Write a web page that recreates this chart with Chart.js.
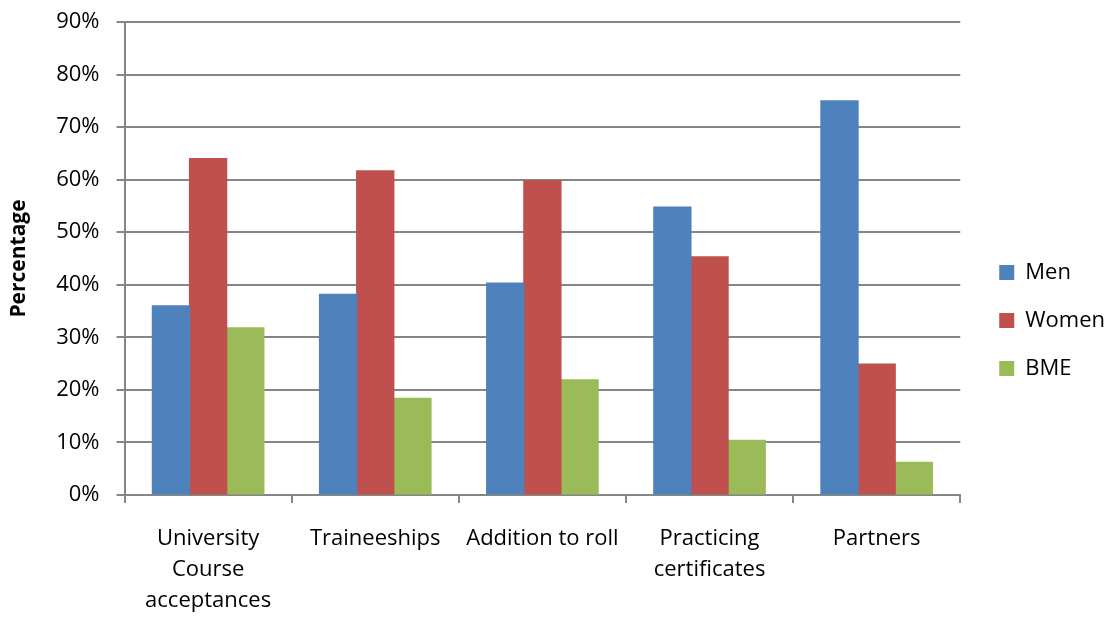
<!DOCTYPE html>
<html>
<head>
<meta charset="utf-8">
<script src="https://cdn.jsdelivr.net/npm/chart.js@4.4.1/dist/chart.umd.min.js"></script>
<style>
    body { margin: 0; background: #fff; }
    #wrap { width: 1115px; height: 617px; }
</style>
</head>
<body>
<div id="wrap"><canvas id="barChart" width="1115" height="617"></canvas></div>
<script>
const categories = [
    ['University', 'Course', 'acceptances'],
    'Traineeships',
    'Addition to roll',
    ['Practicing', 'certificates'],
    'Partners'
];
const menValues = [36, 38.2, 40.3, 54.8, 75];
const womenValues = [64, 61.7, 59.8, 45.3, 24.9];
const bmeValues = [31.8, 18.4, 21.9, 10.4, 6.2];
const yTicks = [0, 10, 20, 30, 40, 50, 60, 70, 80, 90];

const gridGrey = '#868686';
const font = 'Open Sans';

function renderChart() {
    const ctx = document.getElementById('barChart');

    new Chart(ctx, {
        type: 'bar',
        data: {
            labels: categories,
            datasets: [
                { label: 'Men', data: menValues, backgroundColor: '#4F81BD' },
                { label: 'Women', data: womenValues, backgroundColor: '#C0504D' },
                { label: 'BME', data: bmeValues, backgroundColor: '#9BBB59' }
            ]
        },
        options: {
            responsive: false,
            animation: false,
            devicePixelRatio: 1,
            datasets: { bar: { categoryPercentage: 0.667, barPercentage: 1.0, inflateAmount: 0.6 } },
            // negative bottom padding cancels the second tick padding chart.js adds under the labels
            layout: { padding: { top: 5, right: 0, bottom: -19, left: 0 } },
            plugins: {
                legend: {
                    position: 'right',
                    labels: {
                        boxWidth: 15,
                        boxHeight: 15,
                        padding: 26,
                        color: '#000',
                        font: { family: font, size: 22 }
                    }
                },
                tooltip: { enabled: false }
            },
            scales: {
                x: {
                    grid: {
                        offset: true,
                        drawOnChartArea: false,
                        drawTicks: true,
                        tickLength: 8,
                        color: gridGrey,
                        lineWidth: 2
                    },
                    border: { color: gridGrey, width: 2 },
                    ticks: {
                        color: '#000',
                        padding: 20,
                        maxRotation: 0,
                        autoSkip: false,
                        font: { family: font, size: 22, lineHeight: '31px' }
                    }
                },
                y: {
                    min: 0,
                    max: 90,
                    afterBuildTicks: axis => { axis.ticks = yTicks.map(v => ({ value: v })); },
                    // top room is otherwise half a label plus the tick padding
                    afterFit: s => { s.paddingTop = 22; },
                    grid: { color: gridGrey, lineWidth: 2, tickLength: 8 },
                    border: { color: gridGrey, width: 2 },
                    ticks: {
                        color: '#000',
                        padding: 17,
                        font: { family: font, size: 22 },
                        callback: v => v + '%'
                    },
                    title: {
                        display: true,
                        text: 'Percentage',
                        color: '#000',
                        padding: { top: 6, bottom: 8 },
                        font: { family: font, size: 21, weight: 'bold' }
                    }
                },
                // empty axis used only as a gap between the plot and the legend
                gap: {
                    type: 'linear',
                    position: 'right',
                    display: true,
                    grid: { display: false },
                    border: { display: false },
                    ticks: { display: false },
                    afterFit: s => { s.width = 13; }
                }
            }
        }
    });
}

renderChart();
</script>
</body>
</html>
